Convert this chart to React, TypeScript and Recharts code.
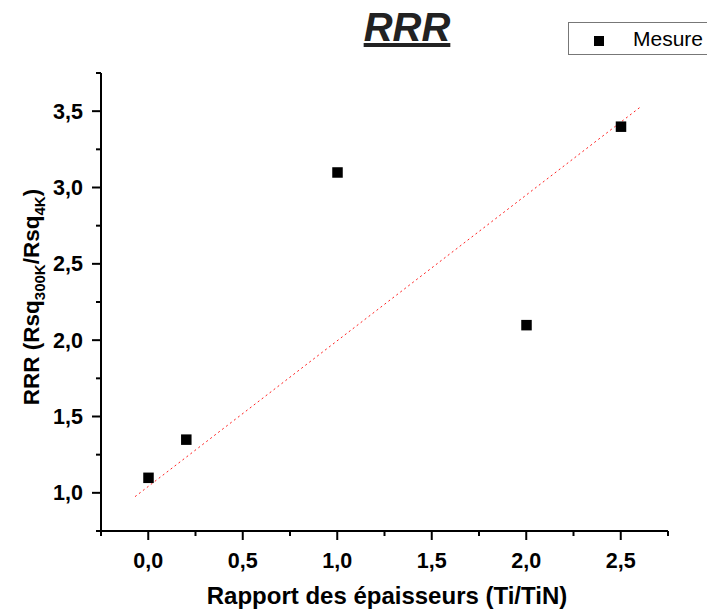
import React from "react";
import { ScatterChart, Scatter, XAxis, YAxis, Legend } from "recharts";

// Measured points
const ratio = [0, 0.2, 1.0, 2.0, 2.5];
const rrr = [1.1, 1.35, 3.1, 2.1, 3.4];

// Linear fit drawn as a red dotted segment
const fitX = [-0.07, 2.61];
const fitY = [0.975, 3.533];

const xTicks = [-0.25, 0, 0.25, 0.5, 0.75, 1, 1.25, 1.5, 1.75, 2, 2.25, 2.5, 2.75];
const yTicks = [0.75, 1, 1.25, 1.5, 1.75, 2, 2.25, 2.5, 2.75, 3, 3.25, 3.5, 3.75];

const points = ratio.map((x, i) => ({ x, y: rrr[i] }));
const fit = fitX.map((x, i) => ({ x, y: fitY[i] }));

const FONT = "'Liberation Sans', Arial, sans-serif";

const isMajor = (v: number) => Math.abs(v * 2 - Math.round(v * 2)) < 1e-6;
const fmt = (v: number) => v.toFixed(1).replace(".", ",");

const XTick = (props: any) => {
  const { x, y, payload } = props;
  const v = payload.value;
  const major = isMajor(v);
  return (
    <g>
      <line x1={x} x2={x} y1={y} y2={y + (major ? 9 : 5)} stroke="#000" strokeWidth={2} />
      {major && (
        <text x={x} y={y + 37} textAnchor="middle" fontFamily={FONT} fontWeight="bold" fontSize={21.5} fill="#000">
          {fmt(v)}
        </text>
      )}
    </g>
  );
};

const YTick = (props: any) => {
  const { x, y, payload } = props;
  const v = payload.value;
  const major = isMajor(v);
  return (
    <g>
      <line x1={x} x2={x - (major ? 9 : 5)} y1={y} y2={y} stroke="#000" strokeWidth={2} />
      {major && (
        <text x={x - 18} y={y + 7.5} textAnchor="end" fontFamily={FONT} fontWeight="bold" fontSize={21.5} fill="#000">
          {fmt(v)}
        </text>
      )}
    </g>
  );
};

const Square = (props: any) => {
  const { cx, cy } = props;
  if (cx == null || cy == null) return null;
  return <rect x={cx - 5} y={cy - 5} width={10.5} height={10.5} fill="#000" />;
};

const LegendBox = () => (
  <div
    style={{
      position: "relative",
      width: 170,
      height: 33,
      border: "1px solid #777",
      background: "#fff",
      fontFamily: FONT,
      fontSize: 21,
      boxSizing: "border-box",
    }}
  >
    <div style={{ position: "absolute", left: 25, top: 13, width: 10, height: 10, background: "#000" }} />
    <div style={{ position: "absolute", left: 64, top: 4, color: "#000" }}>Mesure</div>
  </div>
);

export default function App() {
  return (
    <div style={{ position: "absolute", left: 0, top: 0, width: 707, height: 610, overflow: "hidden", background: "#fff" }}>
      <ScatterChart width={707} height={610} margin={{ top: 73, right: 39, bottom: 0, left: 0 }}>
        <XAxis
          type="number"
          dataKey="x"
          domain={[-0.25, 2.75]}
          ticks={xTicks}
          interval={0}
          allowDataOverflow
          height={79}
          tickSize={0}
          tickMargin={0}
          tickLine={false}
          axisLine={{ stroke: "#000", strokeWidth: 2 }}
          tick={<XTick />}
        />
        <YAxis
          type="number"
          dataKey="y"
          domain={[0.75, 3.75]}
          ticks={yTicks}
          interval={0}
          allowDataOverflow
          width={101}
          tickSize={0}
          tickMargin={0}
          tickLine={false}
          axisLine={{ stroke: "#000", strokeWidth: 2 }}
          tick={<YTick />}
        />
        <Scatter
          data={fit}
          line={{ stroke: "#ff2020", strokeWidth: 1, strokeDasharray: "2 3" }}
          shape={() => null}
          legendType="none"
          isAnimationActive={false}
        />
        <Scatter name="Mesure" data={points} shape={<Square />} isAnimationActive={false} />
        <Legend
          content={<LegendBox />}
          wrapperStyle={{ position: "absolute", left: 568, top: 22, width: 0, height: 0, overflow: "visible" }}
        />
        <text
          x={407}
          y={41}
          textAnchor="middle"
          fontFamily={FONT}
          fontWeight="bold"
          fontStyle="italic"
          fontSize={40}
          textDecoration="underline"
          fill="#222"
        >
          RRR
        </text>
        <text x={387} y={604} textAnchor="middle" fontFamily={FONT} fontWeight="bold" fontSize={24} fill="#000">
          Rapport des épaisseurs (Ti/TiN)
        </text>
        <text
          transform="translate(39,297) rotate(-90)"
          textAnchor="middle"
          fontFamily={FONT}
          fontWeight="bold"
          fontSize={22.5}
          fill="#000"
        >
          RRR (Rsq
          <tspan fontSize={15} dy={6}>300K</tspan>
          <tspan dy={-6}>/Rsq</tspan>
          <tspan fontSize={15} dy={6}>4K</tspan>
          <tspan dy={-6}>)</tspan>
        </text>
      </ScatterChart>
    </div>
  );
}
